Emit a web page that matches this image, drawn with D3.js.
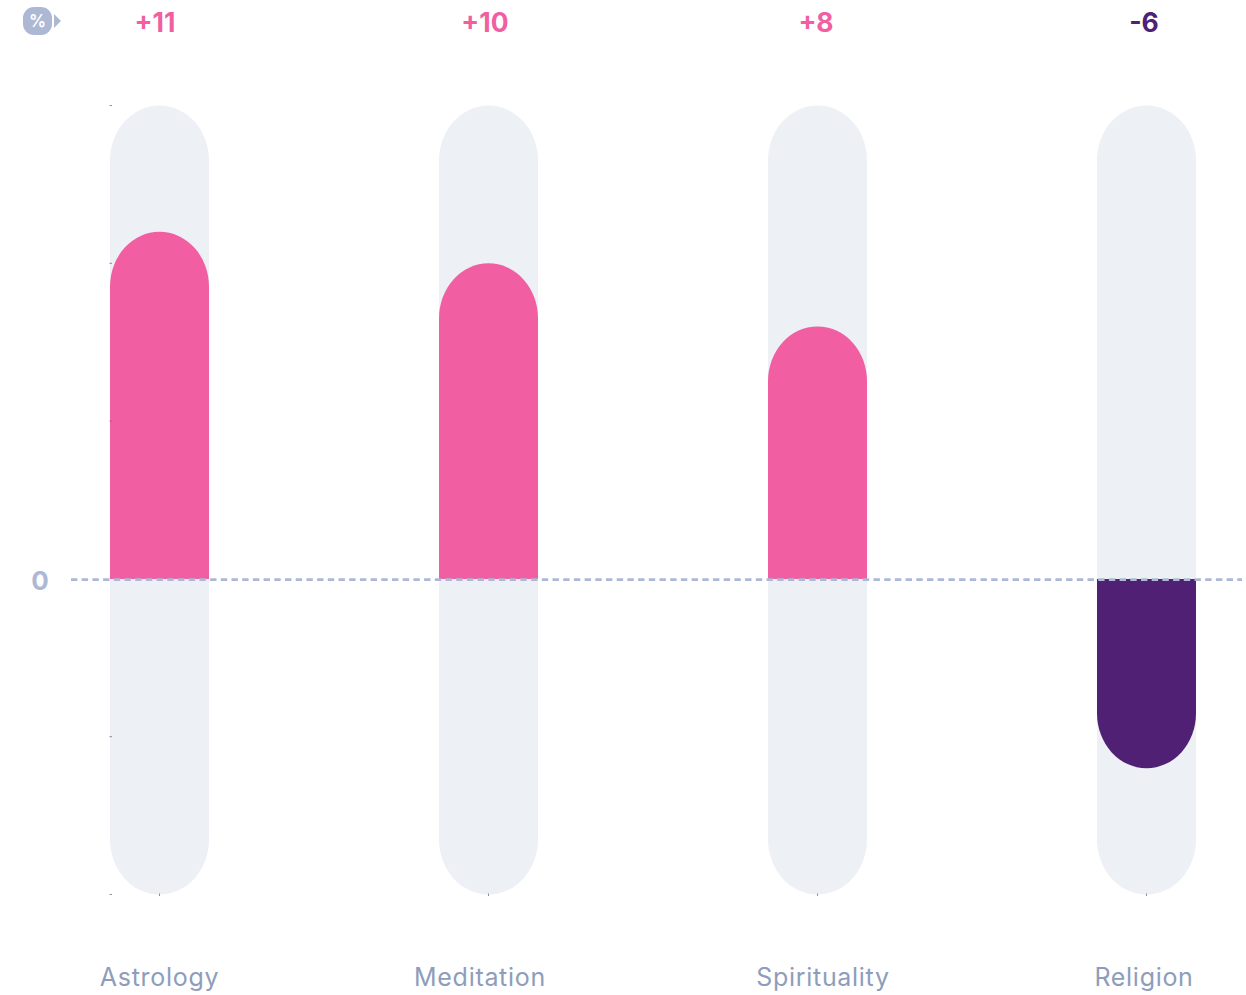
<!DOCTYPE html>
<html>
<head>
<meta charset="utf-8">
<script src="https://cdn.jsdelivr.net/npm/d3@7"></script>
<style>
  html, body { margin: 0; padding: 0; background: #fff; }
  text { font-family: Inter, Lato, sans-serif; }
</style>
</head>
<body>
<div id="chart"></div>
<script>
const categories = ["Astrology", "Meditation", "Spirituality", "Religion"];
const values = [11, 10, 8, -6];
const valueLabels = ["+11", "+10", "+8", "-6"];
const yTicks = [-10, -5, 0, 5, 10, 15];

(function() {

  const width = 1246, height = 995;
  const pink = "#f15fa2", purple = "#4f2073", track = "#edf0f5", axisBlue = "#adb9d4", labelBlue = "#8d9dbb";

  // the labels in the picture do not sit exactly on the band centres
  const valueNudge = [-4.5, -3.5, -1.5, -2.5];
  const nameNudge = [0, -8.5, 5.5, -2.5];

  const svg = d3.select("#chart")
    .append("svg")
      .attr("width", width)
      .attr("height", height)
      .style("display", "block");

  const x = d3.scaleBand()
      .domain(categories)
      .range([110, 1196])
      .paddingInner(230 / 329)
      .paddingOuter(0);

  const y = d3.scaleLinear()
      .domain([-10, 15])
      .range([894.5, 105.5]);

  const rx = x.bandwidth() / 2, ry = 55;

  // bar with a flat end on the zero line and a rounded end at the value
  function barPath(d, i) {
    let x0 = x(categories[i]), x1 = x0 + x.bandwidth();
    let y0 = y(0), yv = y(d);
    let dir = d > 0 ? 1 : -1;
    let sweep = d > 0 ? 1 : 0;
    return "M" + x0 + "," + y0 +
      "V" + (yv + dir * ry) +
      "A" + rx + "," + ry + " 0 0 " + sweep + " " + x1 + "," + (yv + dir * ry) +
      "V" + y0 + "Z";
  }

  // tracks
  svg.append("g").selectAll("rect")
    .data(categories)
    .enter().append("rect")
      .attr("x", d => x(d))
      .attr("y", y(15))
      .attr("width", x.bandwidth())
      .attr("height", y(-10) - y(15))
      .attr("rx", rx)
      .attr("ry", ry)
      .attr("fill", track);

  // bars
  svg.append("g").selectAll("path")
    .data(values)
    .enter().append("path")
      .attr("d", barPath)
      .attr("fill", d => d > 0 ? pink : purple);

  // zero line, drawn over the bars' flat ends
  svg.append("line")
    .attr("x1", 71).attr("x2", 1242)
    .attr("y1", y(0) + 0.7).attr("y2", y(0) + 0.7)
    .attr("stroke", axisBlue)
    .attr("stroke-width", 2.6)
    .attr("stroke-dasharray", "6.4 4.3");

  // small tick marks
  svg.append("g").selectAll("line")
    .data(yTicks.filter(d => d !== 0))
    .enter().append("line")
      .attr("x1", 109.5).attr("x2", 112)
      .attr("y1", d => y(d)).attr("y2", d => y(d))
      .attr("stroke", "#6f7480")
      .attr("stroke-width", 0.8);

  svg.append("g").selectAll("line")
    .data(categories)
    .enter().append("line")
      .attr("x1", d => x(d) + rx).attr("x2", d => x(d) + rx)
      .attr("y1", y(-10) - 1).attr("y2", y(-10) + 1.5)
      .attr("stroke", "#6f7480")
      .attr("stroke-width", 0.8);

  // value labels
  svg.append("g").selectAll("text")
    .data(valueLabels)
    .enter().append("text")
      .attr("x", (d, i) => x(categories[i]) + rx + valueNudge[i])
      .attr("y", 31.5)
      .attr("text-anchor", "middle")
      .attr("font-size", 26.5)
      .attr("font-weight", 700)
      .attr("fill", (d, i) => values[i] > 0 ? pink : purple)
      .text(d => d);

  // category labels
  svg.append("g").selectAll("text")
    .data(categories)
    .enter().append("text")
      .attr("x", (d, i) => x(d) + rx + nameNudge[i])
      .attr("y", 986)
      .attr("text-anchor", "middle")
      .attr("font-size", 25)
      .attr("font-weight", 400)
      .attr("letter-spacing", 0.7)
      .attr("fill", labelBlue)
      .text(d => d);

  // zero label
  svg.append("text")
    .attr("x", 40).attr("y", 590)
    .attr("text-anchor", "middle")
    .attr("font-size", 26)
    .attr("font-weight", 700)
    .attr("fill", axisBlue)
    .text("0");

  // unit badge
  svg.append("rect")
    .attr("x", 23).attr("y", 7)
    .attr("width", 29).attr("height", 28)
    .attr("rx", 11)
    .attr("fill", axisBlue);
  svg.append("path")
    .attr("d", "M54,14L61,21L54,28Z")
    .attr("fill", axisBlue);
  svg.append("text")
    .attr("x", 37.5).attr("y", 27)
    .attr("text-anchor", "middle")
    .attr("font-size", 17)
    .attr("font-weight", 600)
    .attr("fill", "#fff")
    .text("%");

})();
</script>
</body>
</html>
